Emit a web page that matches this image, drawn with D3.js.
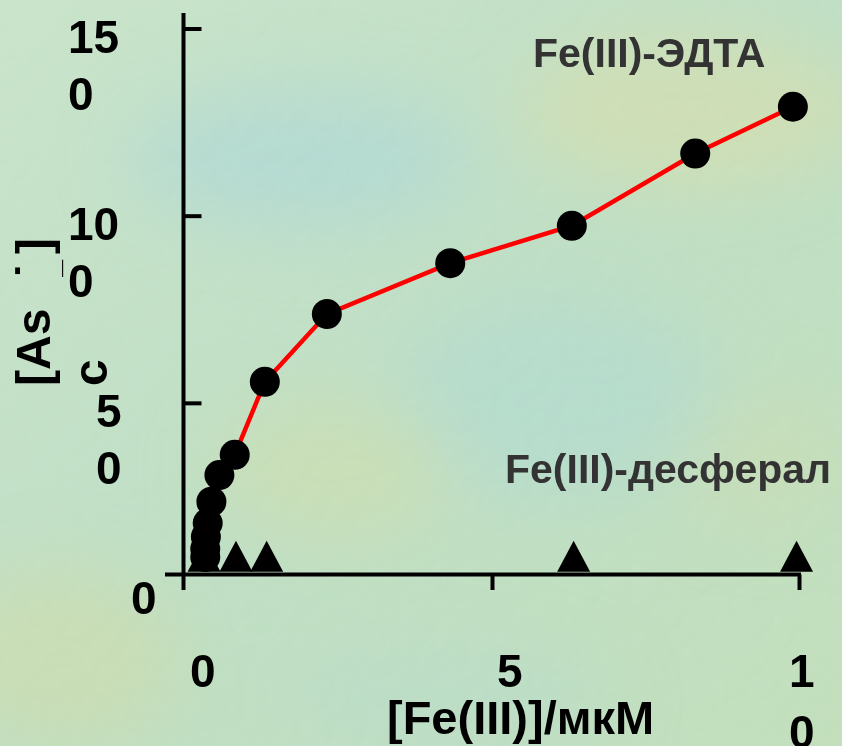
<!DOCTYPE html>
<html><head><meta charset="utf-8">
<script src="https://cdn.jsdelivr.net/npm/d3@7"></script>
<style>html,body{margin:0;padding:0;overflow:hidden;background:#bddcb8}</style>
</head><body>
<svg id="chart" width="842" height="746"></svg>
<script>
// ---- data ----
const edtaX = [0.33, 0.33, 0.34, 0.37, 0.43, 0.56, 0.81, 1.30, 2.31, 4.32, 6.30, 8.31, 9.90];
const edtaY = [8.8, 11.0, 14.2, 17.9, 23.6, 30.7, 36.1, 55.6, 73.7, 87.3, 97.3, 116.6, 129.1];
const desferalX = [0.31, 0.83, 1.33, 6.33, 9.96];
const desferalY = [9.0, 9.0, 9.0, 9.0, 9.0];
const seriesNames = ["Fe(III)-ЭДТА", "Fe(III)-десферал"];
const xTickValues = [0, 5, 10];
const xTickLabels = [["0"], ["5"], ["1", "0"]];
const yTickValues = [0, 50, 100, 150];
const yTickLabels = [["0"], ["5", "0"], ["10", "0"], ["15", "0"]];
const xTitle = "[Fe(III)]/мкМ";

// ---- setup ----
const W = 842, H = 746;
const FONT = "'Liberation Sans', Arial, Helvetica, sans-serif";
const svg = d3.select("#chart");
const x = d3.scaleLinear().domain([0, 10]).range([185, 799]);
const y = d3.scaleLinear().domain([0, 150]).range([590, 28.5]);

// ---- background ----
const defs = svg.append("defs");
const bg = defs.append("linearGradient").attr("id", "bgGrad")
  .attr("x1", 0).attr("y1", 0).attr("x2", 1).attr("y2", 1);
bg.append("stop").attr("offset", "0%").attr("stop-color", "#c4e1c6");
bg.append("stop").attr("offset", "50%").attr("stop-color", "#badcc0");
bg.append("stop").attr("offset", "100%").attr("stop-color", "#bddcb6");
defs.append("filter").attr("id", "blur").attr("x", "-50%").attr("y", "-50%").attr("width", "200%").attr("height", "200%")
  .append("feGaussianBlur").attr("stdDeviation", 35);
const tex = defs.append("filter").attr("id", "tex").attr("x", 0).attr("y", 0).attr("width", "100%").attr("height", "100%");
tex.append("feTurbulence").attr("type", "turbulence").attr("baseFrequency", 0.03).attr("numOctaves", 2).attr("seed", 7).attr("result", "n");
tex.append("feDiffuseLighting").attr("in", "n").attr("surfaceScale", 2.5).attr("lighting-color", "#ffffff").attr("result", "l")
  .append("feDistantLight").attr("azimuth", 225).attr("elevation", 60);

svg.append("rect").attr("width", W).attr("height", H).attr("fill", "url(#bgGrad)");
const blobs = [
  {cx: 300, cy: 160, rx: 170, ry: 70, c: "#a8d4d2"},
  {cx: 690, cy: 110, rx: 170, ry: 80, c: "#d0dca8"},
  {cx: 560, cy: 400, rx: 160, ry: 100, c: "#acd7cc"},
  {cx: 330, cy: 470, rx: 120, ry: 70, c: "#c8dbaa"},
  {cx: 60, cy: 660, rx: 120, ry: 90, c: "#c8d8a6"},
  {cx: 760, cy: 460, rx: 80, ry: 60, c: "#c4d8ae"},
  {cx: 450, cy: 700, rx: 160, ry: 50, c: "#b4d9c4"}
];
svg.append("g").attr("filter", "url(#blur)").selectAll("ellipse").data(blobs).join("ellipse")
  .attr("cx", d => d.cx).attr("cy", d => d.cy).attr("rx", d => d.rx).attr("ry", d => d.ry)
  .attr("fill", d => d.c).attr("opacity", 0.7);
svg.append("rect").attr("width", W).attr("height", H).attr("filter", "url(#tex)")
  .attr("opacity", 0.22).style("mix-blend-mode", "soft-light");

// ---- axes ----
const axisColor = "#000";
const xAxisY = 574.5;
svg.append("line").attr("x1", 183.5).attr("x2", 183.5).attr("y1", 13).attr("y2", y(0))
  .attr("stroke", axisColor).attr("stroke-width", 4);
svg.append("line").attr("x1", 165).attr("x2", x(10) + 2).attr("y1", xAxisY).attr("y2", xAxisY)
  .attr("stroke", axisColor).attr("stroke-width", 4);

const yAx = svg.append("g").attr("transform", "translate(183.5,0)")
  .call(d3.axisRight(y).tickValues(yTickValues.filter(v => v > 0)).tickSize(18).tickFormat(""));
yAx.select(".domain").remove();
yAx.selectAll(".tick line").attr("stroke", axisColor).attr("stroke-width", 4);

const xAx = svg.append("g").attr("transform", `translate(0,${xAxisY})`)
  .call(d3.axisBottom(x).tickValues(xTickValues.filter(v => v > 0)).tickSize(y(0) - xAxisY).tickFormat(""));
xAx.select(".domain").remove();
xAx.selectAll(".tick line").attr("stroke", axisColor).attr("stroke-width", 4);

// tick labels
const yLab = svg.append("g").attr("font-family", FONT).attr("font-weight", "bold")
  .attr("font-size", 46).attr("fill", "#000");
yTickValues.forEach((v, i) => {
  const lines = yTickLabels[i];
  const multi = lines.length > 1;
  const sx = multi ? 124 - 28 * lines[0].length : 131;
  const t = yLab.append("text").attr("x", sx).attr("y", y(v) + 24);
  lines.forEach((s, j) => t.append("tspan").attr("x", sx).attr("dy", j === 0 ? 0 : 57).text(s));
});
const xLab = svg.append("g").attr("font-family", FONT).attr("font-weight", "bold")
  .attr("font-size", 46).attr("fill", "#000");
xTickValues.forEach((v, i) => {
  const lines = xTickLabels[i];
  const sx = x(v) + (lines.length > 1 ? -10 : 5);
  const t = xLab.append("text").attr("x", sx).attr("y", 687);
  lines.forEach((s, j) => t.append("tspan").attr("x", sx).attr("dy", j === 0 ? 0 : 61).text(s));
});

// axis titles
svg.append("text").attr("x", 387).attr("y", 734).attr("font-family", FONT).attr("font-weight", "bold")
  .attr("font-size", 47).attr("fill", "#000").text(xTitle);
const yt = svg.append("text").attr("transform", "translate(50,386) rotate(-90)")
  .attr("font-family", FONT).attr("font-weight", "bold").attr("font-size", 48).attr("fill", "#000");
yt.append("tspan").text("[As");
yt.append("tspan").attr("dx", 30).text("˙");
yt.append("tspan").attr("dx", -14).attr("dy", 10).attr("font-size", 30).text("_");
yt.append("tspan").attr("dx", 6).attr("dy", -10).text("]");
svg.append("text").attr("transform", "translate(107,386) rotate(-90)")
  .attr("font-family", FONT).attr("font-weight", "bold").attr("font-size", 48).attr("fill", "#000").text("c");

// ---- series ----
const edta = edtaX.map((v, i) => ({x: v, y: edtaY[i]}));
const desf = desferalX.map((v, i) => ({x: v, y: desferalY[i]}));

const triW = 33, triH = 31;
const tri = d3.path();
tri.moveTo(0, -triH / 2); tri.lineTo(triW / 2, triH / 2); tri.lineTo(-triW / 2, triH / 2); tri.closePath();
svg.append("g").selectAll("path").data(desf).join("path")
  .attr("d", tri.toString())
  .attr("transform", d => `translate(${x(d.x)},${y(d.y)})`)
  .attr("fill", "#000");

svg.append("path").datum(edta)
  .attr("d", d3.line().x(d => x(d.x)).y(d => y(d.y)))
  .attr("fill", "none").attr("stroke", "#ff0000").attr("stroke-width", 4.5);
svg.append("g").selectAll("circle").data(edta).join("circle")
  .attr("cx", d => x(d.x)).attr("cy", d => y(d.y)).attr("r", 15).attr("fill", "#000");

// series labels
const labG = svg.append("g").attr("font-family", FONT).attr("font-weight", "bold")
  .attr("font-size", 41).attr("fill", "#333333");
labG.append("text").attr("x", 533).attr("y", 67).text(seriesNames[0]);
labG.append("text").attr("x", 505).attr("y", 483).text(seriesNames[1]);
</script>
</body></html>
